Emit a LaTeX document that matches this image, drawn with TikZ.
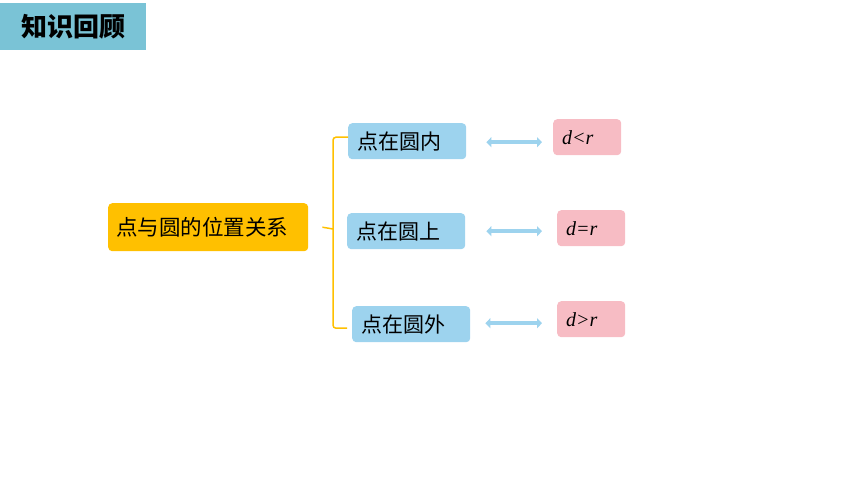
\documentclass[tikz,border=0pt]{standalone}
\usepackage{fontspec}
\setmainfont{Liberation Serif}
\newfontfamily\cjk{Noto Sans CJK SC}
\usepackage{tikz}
\usetikzlibrary{arrows,arrows.meta,calc}
\definecolor{titleblue}{HTML}{7AC3D6}
\definecolor{rootyellow}{HTML}{FFC000}
\definecolor{caseblue}{HTML}{9DD3EE}
\definecolor{relpink}{HTML}{F7BCC4}

\begin{document}
\begin{tikzpicture}[x=1pt,y=-1pt,>={Triangle[length=5pt,width=10pt]},
        title/.style={fill=titleblue,minimum width=146pt,minimum height=47pt,inner sep=0pt,font=\cjk\bfseries\fontsize{26}{26}\selectfont},
        root/.style={fill=rootyellow,rounded corners=4pt,anchor=north west,text width=184pt,minimum height=48pt,inner xsep=8pt,inner ysep=4pt,font=\cjk\fontsize{21.5}{21.5}\selectfont},
        case/.style={fill=caseblue,rounded corners=4pt,anchor=north west,text width=100pt,minimum height=36pt,inner xsep=9pt,inner ysep=3pt,font=\cjk\fontsize{21}{21}\selectfont},
        rel/.style={fill=relpink,rounded corners=4pt,anchor=north west,text width=50pt,minimum height=36pt,inner xsep=9pt,inner ysep=3pt,font=\itshape\fontsize{20}{20}\selectfont},
        link/.style={<->,line width=4pt,draw=caseblue},
        brace/.style={draw=rootyellow,line width=1.5pt,rounded corners=3pt}]
        \useasboundingbox (0,0) rectangle (860,484);
        \node[title] (head) at (73,26.5) {知识回顾};
        \node[root] (root) at (108,203) {点与圆的位置关系};
        \node[case] (in)  at (348,123) {点在圆内};
        \node[case] (on)  at (347,213) {点在圆上};
        \node[case] (out) at (352,306) {点在圆外};
        \node[rel] (lt) at (553,119) {d<r};
        \node[rel] (eq) at (557,210) {d=r};
        \node[rel] (gt) at (557,301) {d>r};
        \coordinate (fork) at (333,229);
        \draw[brace] ($(root.east)+(14,0)$) -- (fork);
        \draw[brace] (fork) |- ($(in.west)+(0,-4)$);
        \draw[brace] (fork) |- ($(out.west)+(-5,4)$);
        \path
          ($(in.east)+(0,1)$)  edge[link,shorten <=20pt,shorten >=11pt] ($(lt.west)+(0,5)$)
          (on.east)            edge[link,shorten <=21pt,shorten >=15pt] ($(eq.west)+(0,3)$)
          ($(out.east)+(0,-1)$) edge[link,shorten <=15pt,shorten >=15pt] ($(gt.west)+(0,4)$)
          ;
      \end{tikzpicture}
\end{document}
